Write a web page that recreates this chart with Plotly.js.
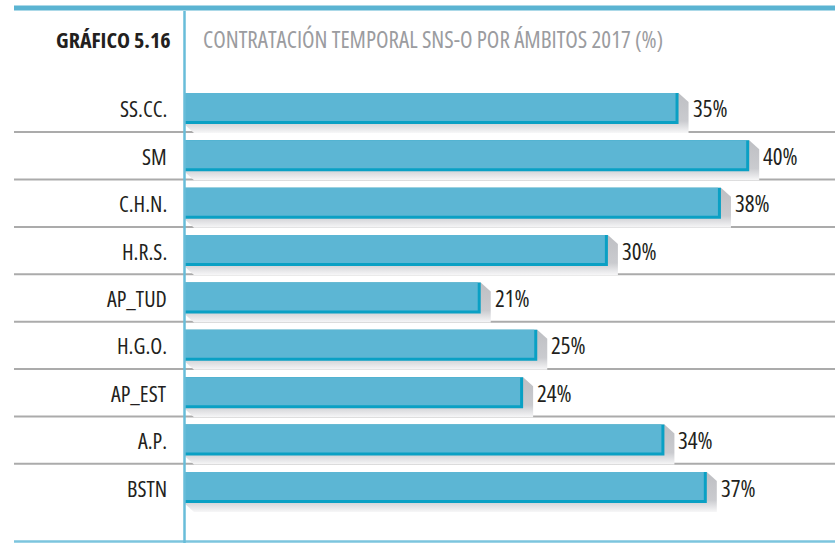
<!DOCTYPE html>
<html><head><meta charset="utf-8">
<script src="https://cdn.plot.ly/plotly-3.0.1.min.js"></script>
<style>html,body{margin:0;padding:0;background:#fff;overflow:hidden}#chart{width:835px;height:543px}
svg text, text, tspan{font-stretch:75% !important}</style>
</head><body><div id="chart"></div>
<script>
// ---- data ----
const categories = ["SS.CC.", "SM", "C.H.N.", "H.R.S.", "AP_TUD", "H.G.O.", "AP_EST", "A.P.", "BSTN"];
const values = [35, 40, 38, 30, 21, 25, 24, 34, 37];
const valueLabels = ["35%", "40%", "38%", "30%", "21%", "25%", "24%", "34%", "37%"];
const chartNumber = "GRÁFICO 5.16";
const chartTitle = "CONTRATACIÓN TEMPORAL SNS-O POR ÁMBITOS 2017 (%)";

// ---- geometry ----
const W = 835, H = 543, L = 184, T = 80, B = 1;
const plotW = W - L, plotH = H - T - B;
const pxX = 14.13, xmax = plotW / pxX;
const yLo = -1.15, yHi = 8.6;
const pxY = plotH / (yHi - yLo);
const n = categories.length;
const pos = categories.map((c, i) => n - 1 - i);
const h = 15.5 / pxY;
const edgeX = 3 / pxX, edgeY = 3 / pxY;
const dx = 10 / pxX, dy = 9 / pxY;
const px2paperX = p => (p - L) / plotW;
const px2paperY = p => 1 - (p - T) / plotH;

const FONT = "'Open Sans', 'DejaVu Sans Condensed', sans-serif";
const fill = "#5CB6D4", dark = "#0AA0C4";

const traces = [];
// shadows (base subplot, drawn below bars)
values.forEach((v, i) => {
  const p = pos[i], yt = p + h, yb = p - h;
  traces.push({
    type: "scatter", mode: "lines", hoverinfo: "skip", showlegend: false,
    x: [0, v, v + dx, v + dx, dx, 0],
    y: [yt, yt, yt - dy, yb - dy, yb - dy, yb],
    fill: "toself", line: {width: 0, color: "rgba(0,0,0,0)"},
    fillcolor: "#C8C9CD",
    fillgradient: {type: "vertical", start: yb - dy, stop: yt,
      colorscale: [[0, "#F7F7F8"], [0.3, "#CACBCF"], [1, "#BEBFC3"]]},
    xaxis: "x", yaxis: "y"
  });
});
// dark edge bars
traces.push({
  type: "bar", orientation: "h", x: values, y: pos, width: 2 * h,
  marker: {color: dark, line: {width: 0}}, hoverinfo: "skip", showlegend: false,
  xaxis: "x2", yaxis: "y2"
});
// main fill bars
traces.push({
  type: "bar", orientation: "h", x: values.map(v => v - edgeX), y: pos,
  width: 2 * h - edgeY, offset: -h + edgeY,
  marker: {color: fill, line: {width: 0}}, hoverinfo: "skip", showlegend: false,
  xaxis: "x2", yaxis: "y2"
});

const shapes = [];
// separators
for (let k = 0; k < n - 1; k++) {
  shapes.push({type: "line", xref: "paper", yref: "y", x0: px2paperX(14), x1: 1,
    y0: pos[k] - 0.5, y1: pos[k] - 0.5, line: {color: "#ABABAB", width: 2}, layer: "below"});
}
// top rule
shapes.push({type: "line", xref: "paper", yref: "paper", x0: px2paperX(14), x1: 1,
  y0: px2paperY(8), y1: px2paperY(8), line: {color: "#5BB4D2", width: 5}});
// bottom rule
shapes.push({type: "line", xref: "paper", yref: "paper", x0: px2paperX(14), x1: 1,
  y0: px2paperY(541.5), y1: px2paperY(541.5), line: {color: "#7CC5DE", width: 2.5}});
// vertical rule
shapes.push({type: "line", xref: "paper", yref: "paper", x0: px2paperX(184.5), x1: px2paperX(184.5),
  y0: px2paperY(11), y1: px2paperY(543), line: {color: "#68BDD9", width: 2.5}});

const annotations = [];
categories.forEach((c, i) => {
  annotations.push({xref: "paper", yref: "y", x: px2paperX(169), y: pos[i], xanchor: "right", yanchor: "middle",
    align: "right", text: c, showarrow: false, font: {family: FONT, size: 22, color: "#231F20"}});
});
values.forEach((v, i) => {
  annotations.push({xref: "x", yref: "y", x: v, y: pos[i], xanchor: "left", yanchor: "middle", xshift: 12,
    align: "left", text: valueLabels[i], showarrow: false, font: {family: FONT, size: 23, color: "#231F20"}});
});
annotations.push({xref: "paper", yref: "paper", x: px2paperX(173), y: px2paperY(39), xanchor: "right", yanchor: "middle",
  align: "right", text: "<b>" + chartNumber + "</b>", showarrow: false, font: {family: FONT, size: 22, color: "#231F20"}});
annotations.push({xref: "paper", yref: "paper", x: px2paperX(201), y: px2paperY(39), xanchor: "left", yanchor: "middle",
  align: "left", text: chartTitle, showarrow: false, font: {family: FONT, size: 23, color: "#9B9CA0"}});

const ax = {range: [0, xmax], visible: false, fixedrange: true, showgrid: false, zeroline: false};
const ay = {range: [yLo, yHi], visible: false, fixedrange: true, showgrid: false, zeroline: false};
const layout = {
  width: W, height: H, margin: {l: L, r: 0, t: T, b: B, pad: 0},
  paper_bgcolor: "#FFFFFF", plot_bgcolor: "rgba(0,0,0,0)",
  barmode: "overlay", showlegend: false,
  font: {family: FONT},
  xaxis: ax, yaxis: ay,
  xaxis2: Object.assign({}, ax, {overlaying: "x"}),
  yaxis2: Object.assign({}, ay, {overlaying: "y"}),
  shapes, annotations
};
Plotly.newPlot("chart", traces, layout, {staticPlot: true, displayModeBar: false});
</script></body></html>
